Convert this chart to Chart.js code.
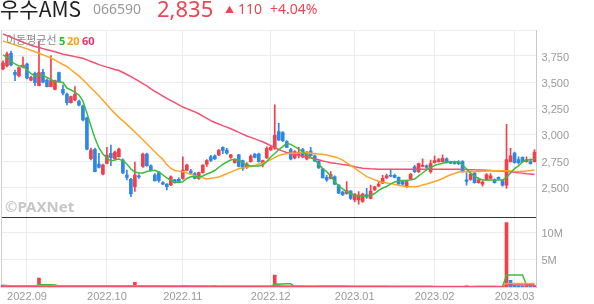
<!DOCTYPE html>
<html><head><meta charset="utf-8">
<script src="https://cdn.jsdelivr.net/npm/chart.js@4"></script>
<style>
html,body{margin:0;padding:0;background:#fff;}
body{width:594px;height:304px;position:relative;overflow:hidden;font-family:'Noto Sans','Noto Sans CJK KR',sans-serif;}
#c{position:absolute;left:0;top:0;}
.t{position:absolute;white-space:nowrap;line-height:1;}
</style></head><body>
<canvas id="c" width="594" height="304"></canvas>
<div class="t" style="left:0;top:-2px;font-size:21px;color:#1f1f1f;font-family:'Noto Sans CJK KR'">우수AMS</div>
<div class="t" style="left:93px;top:2px;font-size:14px;color:#9a9a9a;">066590</div>
<div class="t" style="left:157px;top:-3px;font-size:22px;color:#f04452;">2,835</div>
<div class="t" style="left:225px;top:5px;font-size:9px;color:#f04452;">▲</div>
<div class="t" style="left:238px;top:2px;font-size:14px;color:#f04452;">110</div>
<div class="t" style="left:270px;top:2px;font-size:14px;color:#f04452;">+4.04%</div>
<div class="t" style="left:6px;top:34px;font-size:11px;color:#8a8a8a;font-family:'Noto Sans CJK KR'">이동평균선</div>
<div class="t" style="left:59px;top:35px;font-size:11px;font-weight:bold;color:#2cb82c;">5</div>
<div class="t" style="left:67px;top:35px;font-size:11px;font-weight:bold;color:#ff9f1c;">20</div>
<div class="t" style="left:82px;top:35px;font-size:11px;font-weight:bold;color:#f0306a;">60</div>
<div class="t" style="left:5px;top:199px;font-size:15px;font-weight:bold;color:#c6c6c6;">©PAXNet</div>
<script>
const dayTable = [
  ['2022.08',[24,25,26,29,30,31]],
  ['2022.09',[1,2,5,6,7,8,13,14,15,16,19,20,21,22,23,26,27,28,29,30]],
  ['2022.10',[4,5,6,7,11,12,13,14,17,18,19,20,21,24,25,26,27,28,31]],
  ['2022.11',[1,2,3,4,7,8,9,10,11,14,15,16,17,18,21,22,23,24,25,28,29,30]],
  ['2022.12',[1,2,5,6,7,8,9,12,13,14,15,16,19,20,21,22,23,26,27,28,29]],
  ['2023.01',[2,3,4,5,6,9,10,11,12,13,16,17,18,19,20,25,26,27,30,31]],
  ['2023.02',[1,2,3,6,7,8,9,10,13,14,15,16,17,20,21,22,23,24,27,28]],
  ['2023.03',[2,3,6,7,8,9]]
];
const monthTickLabels = ['2022.09','2022.10','2022.11','2022.12','2023.01','2023.02','2023.03'];
const priceTicks = [2500,2750,3000,3250,3500,3750];
const volumeTicksK = [5000,10000];
const volumeTickLabels = ['5M','10M'];

const opens = [3626,3655,3776,3595,3560,3643,3674,3521,3585,3467,3595,3521,3458,3433,3591,3433,3388,3305,3331,3322,3274,3162,2772,2862,2722,2624,2728,2824,2772,2791,2760,2617,2576,2505,2610,2698,2817,2705,2617,2640,2545,2530,2522,2570,2575,2585,2660,2655,2630,2585,2640,2720,2790,2800,2808,2880,2855,2785,2735,2808,2755,2690,2745,2817,2817,2720,2780,2855,2870,3030,3020,2935,2860,2780,2810,2860,2770,2845,2800,2750,2675,2595,2585,2600,2520,2455,2440,2465,2380,2380,2365,2430,2395,2475,2510,2540,2590,2615,2615,2595,2555,2505,2580,2695,2650,2700,2705,2650,2735,2745,2745,2770,2745,2745,2745,2745,2570,2575,2635,2545,2530,2570,2585,2570,2595,2565,2520,2745,2825,2765,2785,2745,2745,2745];
const highs = [3703,3788,3798,3617,3645,3740,3683,3560,3598,3893,3623,3531,3753,3521,3598,3474,3398,3369,3458,3331,3283,3169,2874,2874,2824,2722,2880,2903,2846,2874,2770,2665,2585,2740,2620,2825,2825,2715,2630,2650,2555,2535,2610,2575,2590,2790,2720,2670,2640,2645,2715,2765,2805,2810,2860,2885,2870,2815,2770,2815,2760,2735,2810,2820,2825,2760,2885,2895,3285,3110,3030,2945,2870,2850,2880,2870,2840,2880,2810,2755,2680,2615,2650,2610,2525,2465,2555,2470,2440,2460,2445,2490,2520,2510,2555,2615,2625,2665,2625,2600,2560,2560,2630,2710,2730,2770,2715,2760,2800,2775,2810,2780,2750,2750,2755,2755,2640,2630,2640,2590,2560,2630,2630,2580,2600,2570,3100,2870,2835,2790,2790,2790,2770,2860];
const lows = [3617,3645,3655,3515,3550,3636,3531,3512,3467,3464,3493,3455,3455,3426,3502,3379,3284,3302,3322,3274,3131,2855,2760,2646,2684,2617,2722,2705,2769,2788,2630,2570,2410,2460,2585,2690,2700,2655,2560,2550,2525,2475,2515,2540,2550,2575,2655,2630,2580,2575,2635,2700,2745,2765,2800,2820,2815,2775,2730,2695,2660,2680,2740,2780,2740,2695,2775,2850,2860,2945,2935,2880,2760,2770,2780,2780,2760,2800,2745,2680,2590,2555,2580,2525,2440,2420,2435,2385,2360,2340,2355,2395,2390,2470,2505,2535,2585,2600,2590,2525,2520,2500,2575,2640,2640,2695,2680,2635,2730,2740,2740,2730,2725,2720,2715,2645,2520,2565,2540,2540,2510,2565,2580,2540,2575,2510,2490,2740,2730,2720,2740,2740,2720,2740];
const closes = [3686,3769,3664,3569,3639,3664,3538,3547,3496,3591,3500,3458,3515,3515,3505,3395,3305,3363,3388,3283,3141,2862,2855,2649,2690,2712,2807,2783,2836,2864,2636,2595,2436,2617,2600,2817,2705,2660,2560,2565,2530,2505,2600,2545,2555,2665,2712,2635,2585,2640,2712,2755,2755,2770,2855,2850,2825,2808,2760,2698,2680,2722,2798,2785,2745,2755,2870,2880,2995,2950,2945,2880,2770,2840,2830,2790,2835,2800,2750,2685,2590,2570,2620,2530,2445,2430,2470,2395,2435,2425,2435,2405,2465,2505,2530,2585,2610,2605,2595,2535,2530,2555,2625,2650,2725,2710,2690,2725,2755,2765,2775,2735,2730,2725,2725,2650,2555,2625,2545,2570,2550,2620,2610,2545,2580,2520,2765,2800,2735,2735,2745,2765,2725,2835];

const ma5 = [3760,3736,3702,3674,3655,3655,3617,3583,3560,3565,3569,3545,3526,3505,3505,3498,3445,3426,3407,3379,3322,3207,3084,2969,2874,2817,2779,2750,2760,2770,2753,2722,2674,2646,2636,2636,2650,2658,2662,2646,2617,2589,2565,2550,2546,2553,2584,2601,2603,2598,2608,2627,2641,2660,2691,2719,2741,2760,2766,2760,2735,2712,2703,2703,2703,2712,2746,2788,2822,2858,2888,2919,2909,2888,2865,2836,2808,2788,2760,2722,2679,2649,2608,2555,2512,2484,2458,2441,2422,2417,2417,2417,2422,2441,2470,2493,2508,2532,2550,2560,2565,2567,2570,2579,2608,2636,2665,2688,2707,2719,2729,2738,2744,2744,2744,2712,2674,2636,2603,2584,2570,2570,2570,2570,2570,2570,2593,2636,2679,2703,2741,2760,2763,2765];
const ma20 = [3893,3880,3868,3856,3843,3831,3818,3804,3790,3776,3761,3746,3731,3710,3689,3669,3648,3619,3589,3561,3524,3486,3448,3410,3372,3329,3285,3243,3204,3166,3133,3097,3063,3027,2990,2953,2915,2877,2839,2801,2766,2716,2679,2660,2654,2649,2636,2624,2611,2601,2590,2579,2586,2592,2599,2613,2629,2645,2661,2677,2686,2692,2699,2709,2721,2732,2744,2764,2783,2803,2812,2819,2824,2825,2827,2828,2829,2825,2821,2816,2812,2807,2798,2788,2778,2759,2733,2709,2683,2655,2629,2601,2587,2571,2557,2549,2542,2535,2528,2520,2513,2506,2506,2506,2511,2521,2531,2543,2555,2567,2584,2603,2620,2632,2646,2649,2649,2649,2650,2651,2653,2655,2657,2658,2658,2658,2658,2655,2652,2650,2651,2655,2659,2664];
const ma60 = [3959,3944,3928,3913,3897,3881,3866,3852,3840,3830,3820,3810,3800,3790,3779,3766,3760,3752,3744,3736,3728,3713,3698,3683,3668,3656,3644,3634,3622,3612,3593,3574,3554,3533,3510,3487,3465,3437,3414,3392,3369,3347,3326,3306,3285,3264,3249,3233,3218,3200,3178,3157,3135,3117,3103,3087,3073,3057,3041,3023,3006,2988,2975,2961,2947,2934,2915,2897,2878,2860,2844,2832,2822,2810,2804,2796,2788,2780,2771,2762,2751,2742,2733,2728,2723,2717,2712,2705,2696,2688,2681,2679,2676,2674,2672,2671,2671,2671,2671,2671,2671,2671,2671,2671,2671,2671,2671,2671,2671,2671,2671,2671,2671,2671,2671,2670,2669,2668,2666,2665,2664,2663,2661,2657,2655,2652,2650,2648,2643,2638,2635,2630,2626,2621];

const volumeK = [350,300,250,150,120,140,120,100,110,1650,380,250,300,200,180,150,170,100,130,100,140,280,150,200,120,110,150,100,100,120,120,90,140,850,150,200,120,100,90,110,80,80,100,70,60,250,180,90,80,70,90,80,70,200,120,90,70,60,60,80,70,60,80,60,60,50,90,120,2200,350,150,100,90,80,60,70,60,50,60,70,90,60,50,70,90,60,70,80,60,50,60,50,70,60,50,80,60,50,40,60,50,60,70,60,70,50,40,60,50,40,50,40,30,40,30,60,200,80,70,50,40,60,50,40,30,40,11800,1200,300,200,150,180,120,250];
const volMa5K = [260,260,250,250,240,230,220,200,180,400,400,390,390,380,200,170,160,150,140,140,140,150,160,160,150,150,140,140,130,120,120,120,120,250,250,250,240,240,110,100,90,90,80,80,90,130,130,120,110,110,90,90,100,110,110,110,100,90,80,70,70,70,70,70,70,70,80,80,520,560,570,580,580,80,75,70,65,65,65,70,70,70,70,70,70,70,70,65,65,60,60,60,60,60,60,60,60,60,60,55,55,55,55,55,55,55,60,60,60,60,60,55,55,50,50,50,45,45,45,70,80,80,80,70,60,50,2200,2200,2200,2200,2200,360,350,340];
const volMa20K = [230,230,230,230,230,230,230,230,230,240,240,240,240,240,240,240,240,240,240,230,230,230,230,230,230,230,230,230,230,210,200,200,200,230,230,230,230,220,220,220,210,200,190,190,130,130,130,130,130,130,120,120,120,120,110,110,110,110,100,100,100,100,100,100,100,100,100,100,140,150,150,150,150,150,150,150,150,150,150,150,150,150,150,150,150,150,150,150,70,70,70,70,70,70,70,70,70,60,60,60,60,60,60,60,60,60,60,60,60,60,60,60,60,60,60,60,60,60,60,60,60,60,60,60,60,60,650,650,650,650,650,650,650,650];
const volMa60K = [160,160,160,160,160,160,160,160,160,160,160,160,160,160,160,160,160,160,160,160,150,150,150,150,150,150,150,150,150,150,150,150,150,150,150,150,150,150,150,150,140,140,140,140,140,140,140,140,140,140,140,140,140,140,140,140,140,140,140,140,140,140,140,140,140,140,140,140,150,150,150,150,150,150,150,150,150,150,150,150,150,150,150,150,150,150,150,150,120,120,120,120,120,120,120,120,120,120,120,120,120,120,120,120,120,120,120,120,100,100,100,100,100,100,100,100,100,100,100,100,100,100,100,100,100,100,370,370,370,370,370,370,370,370];

const dates = [];
dayTable.forEach(([m, ds]) => ds.forEach(d => dates.push(m + '.' + String(d).padStart(2, '0'))));
const monthOf = i => dates[i].slice(0, 7);
const isMonthStart = i => i > 0 && monthOf(i) !== monthOf(i - 1) && monthTickLabels.includes(monthOf(i));

const RED = '#f2404b', BLUE = '#2d87e8';
const C5 = '#3dbb3d', C20 = '#ffa526', C60 = '#f4506e';
const candleColors = opens.map((o, i) => closes[i] >= o ? RED : BLUE);
const volColors = volumeK.map((v, i) => (i === 0 || v >= volumeK[i - 1]) ? RED : BLUE);

const PRICE_MIN = 2217.3, PRICE_MAX = 3997.5, VOL_MAX = 12830;

const lineDs = (data, color, axis, order) => ({
  type: 'line', data, yAxisID: axis, borderColor: color, borderWidth: 1.5,
  pointRadius: 0, tension: 0, order, fill: false
});

new Chart(document.getElementById('c'), {
  type: 'bar',
  data: {
    labels: dates,
    datasets: [
      lineDs(ma5, C5, 'y', 0),
      lineDs(ma20, C20, 'y', 1),
      lineDs(ma60, C60, 'y', 2),
      { type: 'bar', data: lows.map((l, i) => [l, highs[i]]), yAxisID: 'y', backgroundColor: candleColors,
        barThickness: 1, grouped: false, borderWidth: 0, order: 4 },
      { type: 'bar', data: opens.map((o, i) => [o, closes[i]]), yAxisID: 'y', backgroundColor: candleColors,
        barThickness: 3, grouped: false, borderWidth: 0, minBarLength: 1, order: 3 },
      lineDs(volMa5K, C5, 'yv', 2),
      lineDs(volMa20K, C20, 'yv', 1),
      lineDs(volMa60K, C60, 'yv', 0),
      { type: 'bar', data: volumeK, yAxisID: 'yv', backgroundColor: volColors,
        barThickness: 3, grouped: false, borderWidth: 0, order: 3 }
    ]
  },
  options: {
    responsive: false, animation: false, devicePixelRatio: 1,
    layout: { padding: { left: 0.5, top: 30, right: 0, bottom: 0 } },
    plugins: { legend: { display: false }, tooltip: { enabled: false } },
    scales: {
      x: {
        type: 'category', offset: true,
        grid: { offset: false, drawTicks: false, color: c => isMonthStart(c.index) ? '#ececec' : 'rgba(0,0,0,0)' },
        border: { display: true, color: '#d8d8d8' },
        ticks: { autoSkip: false, maxRotation: 0, minRotation: 0, padding: 3, color: '#999',
          font: { size: 11 }, callback: (v, i) => isMonthStart(i) ? monthOf(i) : '' },
        afterFit: s => { s.height = 17; }
      },
      y: {
        position: 'right', stack: 'panels', stackWeight: 187, min: PRICE_MIN, max: PRICE_MAX,
        afterBuildTicks: s => { s.ticks = priceTicks.concat([PRICE_MAX]).map(v => ({ value: v })); },
        grid: { drawTicks: false, color: '#ececec' },
        border: { display: true, color: '#c8c8c8' },
        ticks: { padding: 5, labelOffset: 1.5, color: '#999', font: { size: 11 },
          callback: v => priceTicks.includes(v) ? v.toLocaleString('en-US') : '' },
        afterFit: s => { s.width = 57.5; }
      },
      yv: {
        position: 'right', stack: 'panels', stackWeight: 70, min: 0, max: VOL_MAX,
        afterBuildTicks: s => { s.ticks = volumeTicksK.concat([VOL_MAX]).map(v => ({ value: v })); },
        grid: { drawTicks: false, color: c => (c.tick && c.tick.value === VOL_MAX) ? '#333' : '#ececec' },
        border: { display: true, color: '#c8c8c8' },
        ticks: { padding: 5, labelOffset: 1.5, color: '#999', font: { size: 11 },
          callback: v => { const k = volumeTicksK.indexOf(v); return k >= 0 ? volumeTickLabels[k] : ''; } },
        afterFit: s => { s.width = 57.5; }
      },
      yl: {
        position: 'left', display: true,
        grid: { display: false }, ticks: { display: false },
        border: { display: true, color: '#cfcfcf' },
        afterFit: s => { s.width = 0; }
      }
    }
  }
});
</script>
</body></html>
